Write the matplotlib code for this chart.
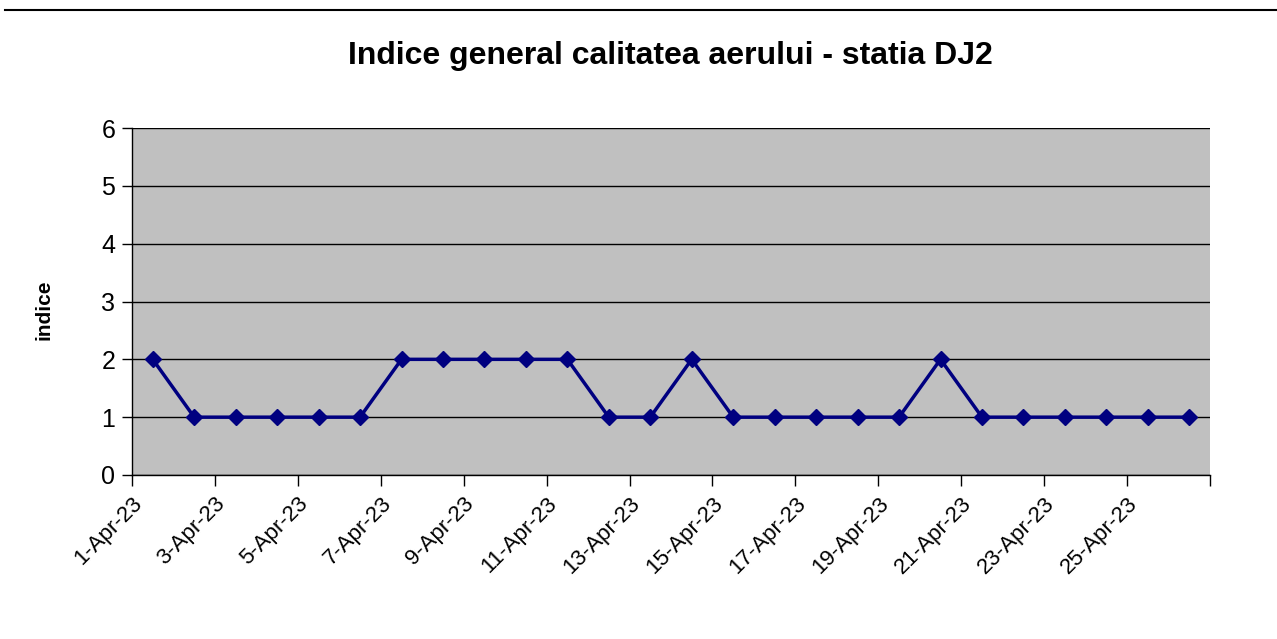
import numpy as np
import matplotlib.pyplot as plt
from matplotlib.lines import Line2D

plt.rcParams['font.family'] = ['Liberation Sans', 'DejaVu Sans']

days = ["%d-Apr-23" % d for d in range(1, 27)]
values = [2, 1, 1, 1, 1, 1, 2, 2, 2, 2, 2, 1, 1, 2, 1, 1, 1, 1, 1, 2, 1, 1, 1, 1, 1, 1]
y_ticks = [0, 1, 2, 3, 4, 5, 6]

fig = plt.figure(figsize=(12.77, 6.39), dpi=100)
ax = fig.add_axes([132 / 1277, 1 - 475 / 639, (1210 - 132) / 1277, (475 - 128) / 639])
ax.set_facecolor('#C0C0C0')

x = np.arange(len(values)) + 0.5
ax.plot(x, values, color='#000080', lw=2.5, marker='D', ms=8, zorder=3)

ax.set_xlim(0, len(values))
ax.set_ylim(0, 6)
ax.set_yticks(y_ticks)
ax.yaxis.grid(True, color='black', lw=1)
ax.set_axisbelow(True)

xt = np.arange(0, len(values) + 1, 2)
ax.set_xticks(xt)
ax.set_xticklabels([days[i] if i < len(days) else "" for i in xt],
                   rotation=45, ha='right', rotation_mode='anchor', fontsize=16)
ax.tick_params(axis='x', length=8, width=1, pad=5)
ax.tick_params(axis='y', length=7, width=1, labelsize=18, pad=5)

for s in ['top', 'right']:
    ax.spines[s].set_visible(False)
for s in ['left', 'bottom']:
    ax.spines[s].set_color('black')
    ax.spines[s].set_linewidth(1)

ax.set_ylabel('indice', fontsize=15, fontweight='bold')
ax.yaxis.set_label_coords(-0.0725, 0.475)

fig.text(0.525, 1 - 56 / 639, 'Indice general calitatea aerului - statia DJ2',
         ha='center', va='center', fontsize=23, fontweight='bold')

fig.add_artist(Line2D([5 / 1277, 1], [1 - 10 / 639, 1 - 10 / 639], color='black', lw=1.5))

fig.savefig('out.png', dpi=100)
